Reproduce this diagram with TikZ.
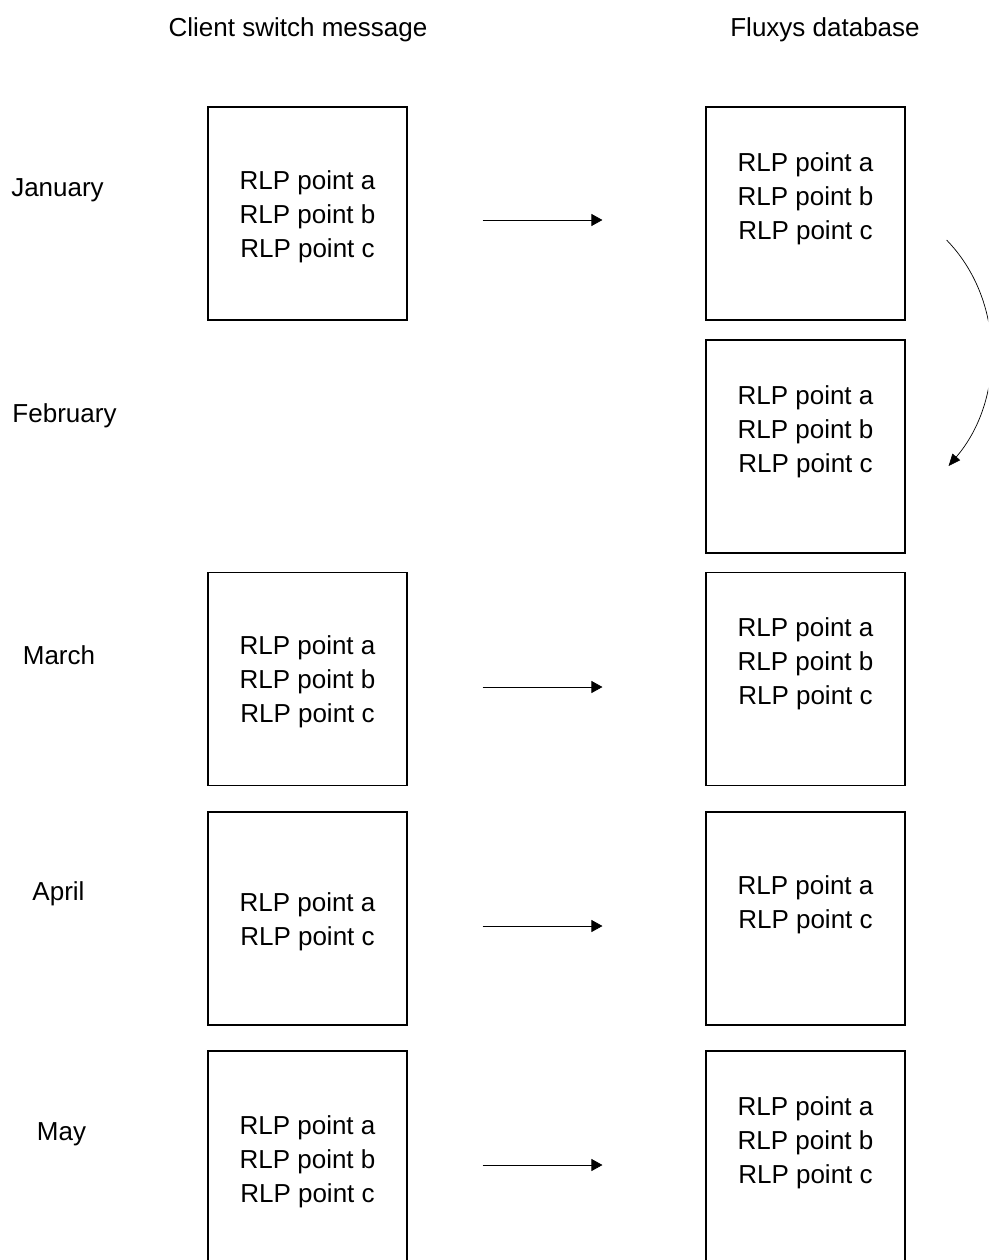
\documentclass[tikz,border=0pt]{standalone}
\usepackage{fontspec}
\setmainfont{Liberation Sans}
\usetikzlibrary{arrows.meta}
\begin{document}
\begin{tikzpicture}[x=1pt,y=-1pt,
  txt/.style={inner sep=0pt,align=center,yshift=-3pt,font=\fontsize{26}{34}\selectfont},
  monthbox/.style={draw,line width=1.1pt,minimum width=199pt,minimum height=213pt,inner sep=0pt},
  flow/.style={line width=0.8pt,-{Triangle[length=11pt,width=12pt]}}]
\clip (0,0) rectangle (988,1260);
\fill[white] (0,0) rectangle (988,1260);

% column headers
\node[txt] (hclient) at (298,27) {Client switch message};
\node[txt] (hfluxys) at (825,27) {Fluxys database};

% month labels
\node[txt] (mjan) at (57.5,187) {January};
\node[txt] (mfeb) at (64.5,413) {February};
\node[txt] (mmar) at (59,652) {March};
\node[txt] (mapr) at (58.5,891) {April};
\node[txt] (mmay) at (61.5,1131) {May};

% client switch message boxes
\node[monthbox] (cjan) at (307.5,213.5) {};
\node[monthbox] (cmar) at (307.5,679) {};
\node[monthbox] (capr) at (307.5,918.5) {};
\node[monthbox] (cmay) at (307.5,1157.5) {};
\node[txt] (tcjan) at (307.5,213.5) {RLP point a\\RLP point b\\RLP point c};
\node[txt] (tcmar) at (307.5,679) {RLP point a\\RLP point b\\RLP point c};
\node[txt] (tcapr) at (307.5,918.5) {RLP point a\\RLP point c};
\node[txt] (tcmay) at (307.5,1159) {RLP point a\\RLP point b\\RLP point c};

% database boxes
\node[monthbox] (fjan) at (805.5,213.5) {};
\node[monthbox] (ffeb) at (805.5,446.5) {};
\node[monthbox] (fmar) at (805.5,679) {};
\node[monthbox] (fapr) at (805.5,918.5) {};
\node[monthbox] (fmay) at (805.5,1157.5) {};
\node[txt] (tfjan) at (805.5,196) {RLP point a\\RLP point b\\RLP point c};
\node[txt] (tffeb) at (805.5,429) {RLP point a\\RLP point b\\RLP point c};
\node[txt] (tfmar) at (805.5,661) {RLP point a\\RLP point b\\RLP point c};
\node[txt] (tfapr) at (805.5,901.5) {RLP point a\\RLP point c};
\node[txt] (tfmay) at (805.5,1140) {RLP point a\\RLP point b\\RLP point c};

% transfers from message to database
\draw[flow] ([shift={(75,6.5)}]cjan.east) -- ([shift={(-103,6.5)}]fjan.west);
\draw[flow] ([shift={(75,8)}]cmar.east) -- ([shift={(-103,8)}]fmar.west);
\draw[flow] ([shift={(75,7.5)}]capr.east) -- ([shift={(-103,7.5)}]fapr.west);
\draw[flow] ([shift={(75,7.5)}]cmay.east) -- ([shift={(-103,7.5)}]fmay.west);

% January data carried over to February
\coordinate (cstart) at ([shift={(41,26.5)}]fjan.east);
\coordinate (cend) at ([shift={(43,19.5)}]ffeb.east);
\draw[line width=0.7pt,-{Triangle[length=12pt,width=10pt]}]
  (cstart) .. controls (1005,300) and (1005,400) .. (cend);
\end{tikzpicture}
\end{document}
